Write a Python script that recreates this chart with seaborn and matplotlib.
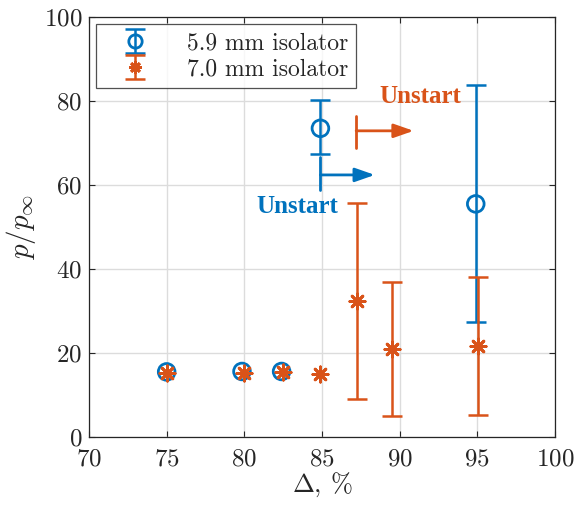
import numpy as np
import pandas as pd
import seaborn as sns
import matplotlib
matplotlib.use("Agg")
import matplotlib.pyplot as plt
from matplotlib.lines import Line2D
from matplotlib.legend_handler import HandlerTuple

# ---- data ----
x_59 = [75.0, 79.85, 82.4, 84.9, 94.9]
y_59 = [15.5, 15.6, 15.6, 73.5, 55.5]
lo_59 = [np.nan, np.nan, np.nan, 67.3, 27.4]
hi_59 = [np.nan, np.nan, np.nan, 80.2, 83.7]

x_70 = [75.0, 79.95, 82.5, 84.9, 87.25, 89.5, 95.05]
y_70 = [15.3, 15.2, 15.4, 15.0, 32.4, 21.0, 21.7]
lo_70 = [np.nan, np.nan, np.nan, np.nan, 9.0, 4.9, 5.3]
hi_70 = [np.nan, np.nan, np.nan, np.nan, 55.7, 37.0, 38.0]

labels = ["5.9 mm isolator", "7.0 mm isolator"]
blue = "#0072BD"
orange = "#D95319"

sns.set_theme(style="ticks")
plt.rcParams["font.family"] = ["cmr10", "DejaVu Serif"]
plt.rcParams["mathtext.fontset"] = "cm"
plt.rcParams["axes.formatter.use_mathtext"] = True

fig = plt.figure(figsize=(5.76, 5.08), dpi=100)
ax = fig.add_axes([0.1545, 0.1398, 0.809, 0.8267])

def draw(xs, ys, lo, hi, color, marker, ms, mew, fill):
    df = pd.DataFrame({"x": xs, "y": ys, "lo": lo, "hi": hi})
    e = df.dropna()
    eb = ax.errorbar(e["x"], e["y"], yerr=[e["y"] - e["lo"], e["hi"] - e["y"]],
                     fmt="none", ecolor=color, elinewidth=1.8, capsize=7,
                     capthick=1.8, zorder=3)
    sns.scatterplot(data=df, x="x", y="y", ax=ax, marker=marker, s=ms ** 2,
                    facecolors=fill, edgecolor=color, color=color,
                    linewidth=mew, zorder=4, legend=False)
    proxy = Line2D([], [], ls="none", marker=marker, ms=ms * 0.8,
                   mfc=fill, mec=color, mew=mew)
    return eb, proxy

eb1, p1 = draw(x_59, y_59, lo_59, hi_59, blue, "o", 12, 2.0, "none")
eb2, p2 = draw(x_70, y_70, lo_70, hi_70, orange, (8, 2, 0), 11, 2.0, orange)

# Unstart annotations
ax.plot([84.9, 84.9], [58.8, 66.7], color=blue, lw=2, zorder=3)
ax.annotate("", xy=(88.4, 62.4), xytext=(84.9, 62.4),
            arrowprops=dict(arrowstyle="-|>,head_length=1.0,head_width=0.35",
                            color=blue, lw=2, shrinkA=0, shrinkB=0))
ax.text(83.4, 54.8, "Unstart", color=blue, fontsize=18, fontweight="bold",
        family="Liberation Serif", ha="center", va="center")

ax.plot([87.2, 87.2], [68.8, 76.4], color=orange, lw=2, zorder=3)
ax.annotate("", xy=(90.9, 72.9), xytext=(87.2, 72.9),
            arrowprops=dict(arrowstyle="-|>,head_length=1.0,head_width=0.35",
                            color=orange, lw=2, shrinkA=0, shrinkB=0))
ax.text(91.3, 81.0, "Unstart", color=orange, fontsize=18, fontweight="bold",
        family="Liberation Serif", ha="center", va="center")

ax.set_xlim(70, 100)
ax.set_ylim(0, 100)
ax.set_xticks(range(70, 101, 5))
ax.set_yticks(range(0, 101, 20))
ax.grid(True, color="#dcdcdc", lw=1)
ax.set_axisbelow(True)
ax.tick_params(direction="in", length=4, width=0.8, labelsize=18,
               colors="#262626", top=True, right=True, labeltop=False, labelright=False)
ax.tick_params(axis="x", pad=8)
ax.tick_params(axis="y", pad=5)
for s in ax.spines.values():
    s.set_color("#262626")
    s.set_linewidth(0.9)
ax.set_xlabel(r"$\Delta$, %", fontsize=19, color="#262626", labelpad=0)
ax.set_ylabel(r"$p/p_\infty$", fontsize=21, color="#262626", labelpad=4)

leg = ax.legend([(eb1, p1), (eb2, p2)], labels, loc="upper left",
                handler_map={tuple: HandlerTuple(ndivide=1)},
                fontsize=17, frameon=True, fancybox=False, edgecolor="#262626",
                borderaxespad=0.3, handlelength=2.6, handletextpad=0.9,
                borderpad=0.35, labelspacing=0.15)
leg.get_frame().set_linewidth(0.9)

fig.savefig("out.png", dpi=100)
